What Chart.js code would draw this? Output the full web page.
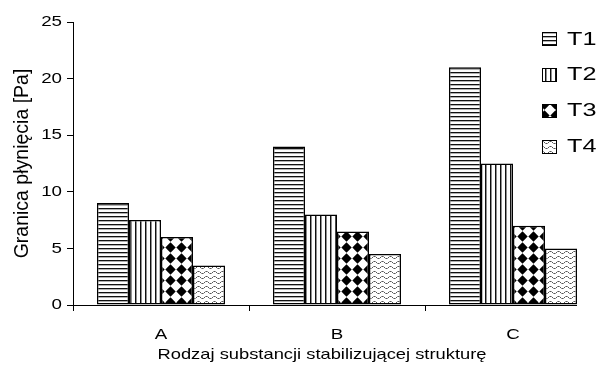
<!DOCTYPE html>
<html>
<head>
<meta charset="utf-8">
<title>Granica płynięcia</title>
<script src="https://cdn.jsdelivr.net/npm/chart.js@4.4.1/dist/chart.umd.min.js"></script>
<style>
  html, body { margin: 0; padding: 0; background: #fff; }
  #wrap { width: 601px; height: 374px; overflow: hidden; }
</style>
</head>
<body>
<div id="wrap"><canvas id="chart" width="601" height="374"></canvas></div>
<script>
// --- data ---
const categories = ['A', 'B', 'C'];
const seriesNames = ['T1', 'T2', 'T3', 'T4'];
const t1Values = [9, 14, 21];
const t2Values = [7.5, 8, 12.5];
const t3Values = [6, 6.5, 7];
const t4Values = [3.5, 4.5, 5];
const yMin = 0, yMax = 25, yStep = 5;
const yTitle = 'Granica płynięcia [Pa]';
const xTitle = 'Rodzaj substancji stabilizującej strukturę';

const FONT = '"Liberation Sans", Arial, sans-serif';

// --- fill patterns for the bars ---
function tile(w, h, draw) {
  const c = document.createElement('canvas');
  c.width = w; c.height = h;
  const g = c.getContext('2d');
  g.fillStyle = '#fff';
  g.fillRect(0, 0, w, h);
  draw(g);
  return g.createPattern(c, 'repeat');
}

// horizontal stripes
const patHoriz = tile(4, 4, g => {
  g.fillStyle = '#111'; g.fillRect(0, 0, 4, 1);
  g.fillStyle = '#b0b0b0'; g.fillRect(0, 1, 4, 1);
});
// vertical stripes
const patVert = tile(5, 5, g => {
  g.fillStyle = '#111'; g.fillRect(0, 0, 1, 5);
  g.fillStyle = '#909090'; g.fillRect(1, 0, 1, 5);
});
// diamond checker
const patDiamond = tile(11, 11, g => {
  g.fillStyle = '#000';
  g.beginPath();
  g.moveTo(5.5, 0.3); g.lineTo(10.7, 5.5); g.lineTo(5.5, 10.7); g.lineTo(0.3, 5.5);
  g.closePath(); g.fill();
});
// dotted waves
const patWave = tile(8, 5, g => {
  for (let x = 0; x < 8; x++) {
    g.fillStyle = x % 2 ? '#999' : '#555';
    const y = Math.round(2 + 1.4 * Math.sin((x / 8) * 2 * Math.PI));
    g.fillRect(x, y, 1, 1);
  }
});
const patterns = [patHoriz, patVert, patDiamond, patWave];
const seriesValues = [t1Values, t2Values, t3Values, t4Values];

const datasets = seriesNames.map((name, i) => ({
  label: name,
  data: seriesValues[i],
  backgroundColor: patterns[i],
  borderColor: '#000',
  borderWidth: 1.5,
  borderSkipped: false,
  categoryPercentage: 128 / 176,
  barPercentage: 1
}));

// text drawn with a horizontal stretch factor
function wideText(ctx, text, x, y, sx, align, baseline) {
  ctx.save();
  ctx.translate(x, y);
  ctx.scale(sx, 1);
  ctx.textAlign = align;
  ctx.textBaseline = baseline;
  ctx.fillText(text, 0, 0);
  ctx.restore();
}

// tick labels, x axis line ending at the last bar, x axis title, legend
const decorations = {
  id: 'decorations',
  afterDraw(chart) {
    const ctx = chart.ctx;
    const area = chart.chartArea;
    const xScale = chart.scales.x;
    const yScale = chart.scales.y;
    const y0 = Math.round(yScale.getPixelForValue(0)) + 0.5;

    ctx.save();
    // x axis line
    let right = area.left;
    chart.data.datasets.forEach((ds, i) => {
      chart.getDatasetMeta(i).data.forEach(el => {
        right = Math.max(right, el.x + el.width / 2);
      });
    });
    ctx.strokeStyle = '#000';
    ctx.lineWidth = 1;
    ctx.beginPath();
    ctx.moveTo(area.left, y0);
    ctx.lineTo(right, y0);
    ctx.stroke();

    ctx.fillStyle = '#000';
    ctx.font = '15px ' + FONT;
    // y tick labels
    yScale.ticks.forEach(t => {
      wideText(ctx, t.label, area.left - 11, yScale.getPixelForValue(t.value), 1.25, 'right', 'middle');
    });
    // x tick labels
    xScale.ticks.forEach((t, i) => {
      wideText(ctx, String(t.label), xScale.getPixelForTick(i), 338.5, 1.25, 'center', 'alphabetic');
    });

    // x axis title
    ctx.font = '15px ' + FONT;
    const sxTitle = 329 / ctx.measureText(xTitle).width;
    wideText(ctx, xTitle, 322, 358.5, sxTitle, 'center', 'alphabetic');

    // legend
    seriesNames.forEach((name, i) => {
      const step = 35.9 * i;
      const bx = 542.5, by = Math.round(32 + step) + 0.5;
      ctx.fillStyle = patterns[i];
      ctx.fillRect(bx, by, 14, 13);
      ctx.strokeStyle = '#000';
      ctx.lineWidth = 1;
      ctx.strokeRect(bx, by, 14, 13);
      ctx.fillStyle = '#000';
      ctx.font = '18px ' + FONT;
      wideText(ctx, name, 567, 44.5 + step, 1.4, 'left', 'alphabetic');
    });
    ctx.restore();
  }
};

new Chart(document.getElementById('chart'), {
  type: 'bar',
  data: { labels: categories, datasets },
  options: {
    responsive: false,
    devicePixelRatio: 1,
    animation: false,
    events: [],
    layout: { padding: { top: 22, left: 0, right: 0, bottom: 0 } },
    plugins: { legend: { display: false }, tooltip: { enabled: false } },
    scales: {
      x: {
        offset: true,
        grid: {
          offset: true,
          drawOnChartArea: false,
          drawTicks: true,
          tickLength: 6,
          color: c => (c.tick ? '#000' : 'rgba(0,0,0,0)'),
          lineWidth: 1
        },
        border: { display: false },
        ticks: { display: false },
        afterFit(scale) { scale.height = 69; }
      },
      y: {
        min: yMin,
        max: yMax,
        grid: { drawOnChartArea: false, drawTicks: true, tickLength: 6, color: '#000' },
        border: { display: true, color: '#000', width: 1 },
        ticks: { stepSize: yStep, display: false },
        title: {
          display: true,
          text: yTitle,
          color: '#000',
          font: { family: FONT, size: 19.5 },
          padding: { top: 11, bottom: 4 }
        },
        afterFit(scale) { scale.width = 73; }
      }
    }
  },
  plugins: [decorations]
});
</script>
</body>
</html>
